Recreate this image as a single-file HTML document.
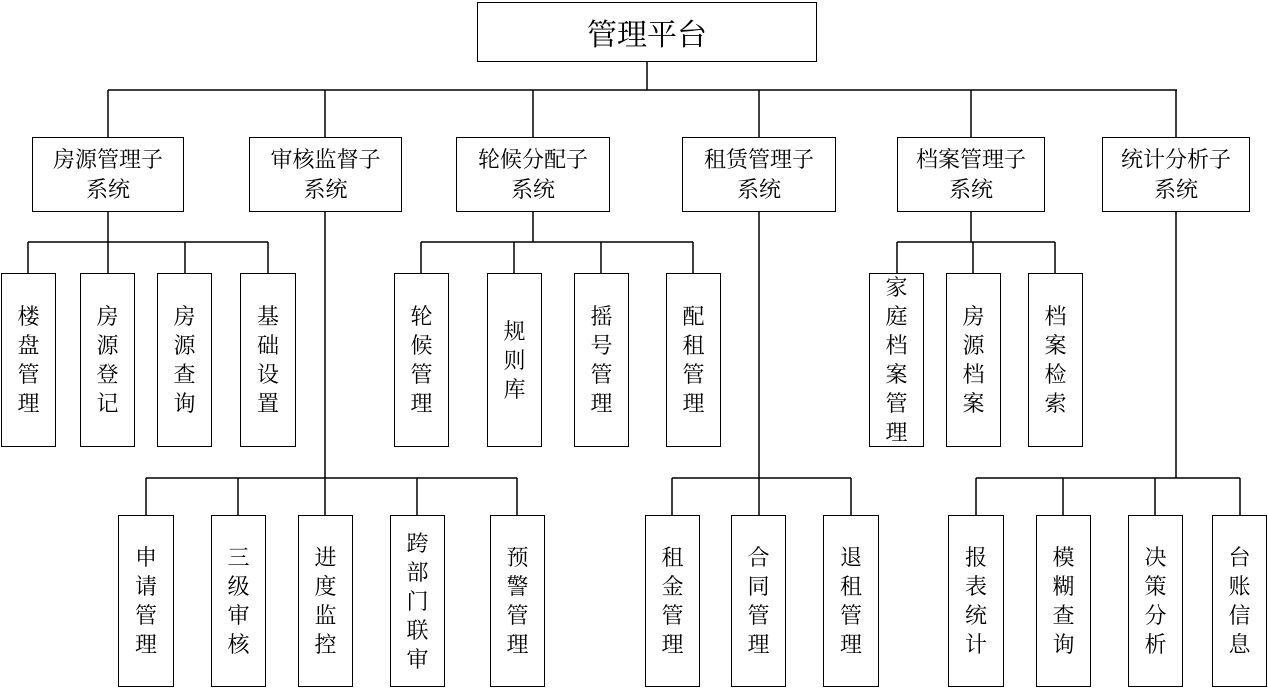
<!DOCTYPE html>
<html><head><meta charset="utf-8"><style>
body{margin:0;width:1268px;height:689px;background:#fff;position:relative;overflow:hidden;font-family:"Liberation Serif","Noto Serif CJK SC","Noto Sans CJK SC",serif;color:#000}
.b{position:absolute;border:1.5px solid #000;box-sizing:border-box;background:#fff;display:flex;align-items:center;justify-content:center;text-align:center}
.t{font-size:30px}
.m{font-size:22px;line-height:30px}
.v{font-size:22px;line-height:29px;width:24px;word-break:break-all}
svg{position:absolute;left:0;top:0}
</style></head><body>
<svg width="1268" height="689"><g stroke="#000" stroke-width="1.5" fill="none">
<path d="M647 62V90M108 90H1177M108 90V137M325 90V137M533 90V137M759 90V137M971 90V137M1176 90V137"/>
<path d="M108 212V242M28 242H268M28 242V273M108 242V273M185 242V273M268 242V273"/>
<path d="M533 212V242M421 242H693M421 242V273M514 242V273M601 242V273M693 242V273"/>
<path d="M971 212V242M897 242H1055M897 242V273M973 242V273M1055 242V273"/>
<path d="M325 212V478M146 478H517M146 478V515M238 478V515M325 478V515M417 478V515M517 478V515"/>
<path d="M759 212V478M672 478H851M672 478V515M759 478V515M851 478V515"/>
<path d="M1176 212V478M976 478H1240M976 478V515M1063 478V515M1155 478V515M1240 478V515"/>
</g></svg>
<div class="b t" style="left:477px;top:2px;width:340px;height:60px">管理平台</div>
<div class="b m" style="left:32px;top:137px;width:152px;height:75px">房源管理子<br>系统</div>
<div class="b m" style="left:249px;top:137px;width:153px;height:75px">审核监督子<br>系统</div>
<div class="b m" style="left:456px;top:137px;width:154px;height:75px">轮候分配子<br>系统</div>
<div class="b m" style="left:682px;top:137px;width:154px;height:75px">租赁管理子<br>系统</div>
<div class="b m" style="left:897px;top:137px;width:148px;height:75px">档案管理子<br>系统</div>
<div class="b m" style="left:1102px;top:137px;width:148px;height:75px">统计分析子<br>系统</div>

<div class="b" style="left:1px;top:273px;width:55px;height:174px"><div class="v">楼盘管理</div></div>
<div class="b" style="left:80px;top:273px;width:55px;height:174px"><div class="v">房源登记</div></div>
<div class="b" style="left:157px;top:273px;width:55px;height:174px"><div class="v">房源查询</div></div>
<div class="b" style="left:240px;top:273px;width:56px;height:174px"><div class="v">基础设置</div></div>

<div class="b" style="left:394px;top:273px;width:55px;height:174px"><div class="v">轮候管理</div></div>
<div class="b" style="left:487px;top:273px;width:55px;height:174px"><div class="v">规则库</div></div>
<div class="b" style="left:574px;top:273px;width:55px;height:174px"><div class="v">摇号管理</div></div>
<div class="b" style="left:666px;top:273px;width:55px;height:174px"><div class="v">配租管理</div></div>

<div class="b" style="left:869px;top:273px;width:55px;height:174px"><div class="v">家庭档案管理</div></div>
<div class="b" style="left:946px;top:273px;width:55px;height:174px"><div class="v">房源档案</div></div>
<div class="b" style="left:1028px;top:273px;width:55px;height:174px"><div class="v">档案检索</div></div>

<div class="b" style="left:118px;top:515px;width:56px;height:172px"><div class="v">申请管理</div></div>
<div class="b" style="left:211px;top:515px;width:55px;height:172px"><div class="v">三级审核</div></div>
<div class="b" style="left:298px;top:515px;width:55px;height:172px"><div class="v">进度监控</div></div>
<div class="b" style="left:390px;top:515px;width:55px;height:172px"><div class="v">跨部门联审</div></div>
<div class="b" style="left:490px;top:515px;width:55px;height:172px"><div class="v">预警管理</div></div>

<div class="b" style="left:645px;top:515px;width:55px;height:172px"><div class="v">租金管理</div></div>
<div class="b" style="left:731px;top:515px;width:55px;height:172px"><div class="v">合同管理</div></div>
<div class="b" style="left:823px;top:515px;width:56px;height:172px"><div class="v">退租管理</div></div>

<div class="b" style="left:948px;top:515px;width:56px;height:172px"><div class="v">报表统计</div></div>
<div class="b" style="left:1036px;top:515px;width:55px;height:172px"><div class="v">模糊查询</div></div>
<div class="b" style="left:1128px;top:515px;width:55px;height:172px"><div class="v">决策分析</div></div>
<div class="b" style="left:1212px;top:515px;width:55px;height:172px"><div class="v">台账信息</div></div>
</body></html>
